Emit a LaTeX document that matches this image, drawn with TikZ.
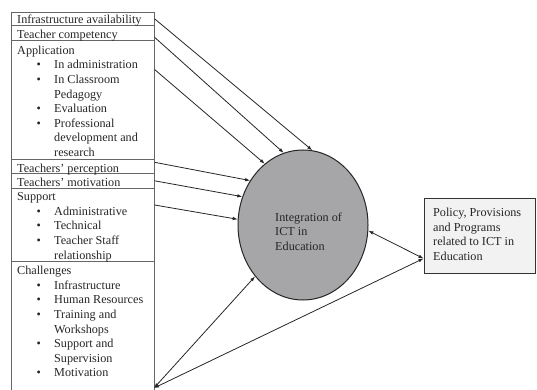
\documentclass[tikz,border=0pt]{standalone}
\usepackage{fontspec}
\setmainfont{Liberation Serif}
\usetikzlibrary{shapes.geometric,arrows.meta}
\newcommand{\bitem}{\hspace*{19.5pt}\makebox[17.5pt][l]{\textbullet}}
\newcommand{\cont}{\hspace*{37pt}}
\begin{document}
\begin{tikzpicture}[x=1pt,y=-1pt,
  lbox/.style={draw=black!60, line width=0.6pt, minimum width=143pt, inner sep=0pt, anchor=north west},
  txt/.style={anchor=north west, inner sep=0pt, align=left, font=\fontsize{12.2}{14.6}\selectfont, text=black!85},
  conn/.style={draw=black!85, line width=0.8pt, -{Latex[length=5pt,width=3.6pt]}},
  dconn/.style={draw=black!85, line width=0.8pt, {Latex[length=5pt,width=3.6pt]}-{Latex[length=5pt,width=3.6pt]}}]
\useasboundingbox (0,0) rectangle (537,390);
% left boxes
\node[lbox, minimum height=13pt] (infra) at (11,12) {};
\node[lbox, minimum height=15pt] (tc) at (11,25) {};
\node[lbox, minimum height=119pt] (app) at (11,40) {};
\node[lbox, minimum height=14pt] (perc) at (11,159) {};
\node[lbox, minimum height=15pt] (motiv) at (11,173) {};
\node[lbox, minimum height=73pt] (supp) at (11,188) {};
\node[lbox, minimum height=131pt] (chal) at (11,261) {};
% texts
\node[txt] (tinfra) at (17,13.3) {\strut Infrastructure availability};
\node[txt] (ttc) at (17,28.3) {\strut Teacher competency};
\node[txt] (tapp) at (17,43.8) {\strut Application\\
\bitem In administration\\
\bitem In Classroom\\
\cont Pedagogy\\
\bitem Evaluation\\
\bitem Professional\\
\cont development and\\
\cont research};
\node[txt] (tperc) at (17,161.8) {\strut Teachers’ perception};
\node[txt] (tmotiv) at (17,176.3) {\strut Teachers’ motivation};
\node[txt] (tsupp) at (17,190.3) {\strut Support\\
\bitem Administrative\\
\bitem Technical\\
\bitem Teacher Staff\\
\cont relationship};
\node[txt] (tchal) at (17,264.3) {\strut Challenges\\
\bitem Infrastructure\\
\bitem Human Resources\\
\bitem Training and\\
\cont Workshops\\
\bitem Support and\\
\cont Supervision\\
\bitem Motivation};
% ellipse
\node[ellipse, draw=black!85, line width=1pt, fill={rgb,255:red,166;green,166;blue,169}, minimum width=130pt, minimum height=150pt, inner sep=0pt] (ell) at (303,225) {};
\node[txt] (tell) at (275,210.8) {\strut Integration of\\ICT in\\Education};
% policy box
\node[draw=black!80, line width=1pt, fill=black!5, minimum width=111pt, minimum height=75pt, inner sep=0pt] (pol) at (479.5,235.5) {};
\node[txt] (tpol) at (433,206.3) {\strut Policy, Provisions\\and Programs\\related to ICT in\\Education};
% connector points
\coordinate (cb) at (154,388);
\coordinate (pp) at ([yshift=15pt]pol.south west);
% connectors
\draw[conn] (infra.east) -- (ell.83);
\draw[conn] ([yshift=-4.5pt]tc.east) -- (ell.105);
\draw[conn] ([yshift=-29.5pt]app.north east) -- (ell.122.6);
\draw[conn] ([yshift=4pt]perc.east) -- (ell.140.6);
\draw[conn] (motiv.east) -- (ell.155.7);
\draw[conn] ([yshift=-17pt]supp.north east) -- (ell.175);
\draw[dconn] (cb) -- (ell.227);
\draw[dconn] (cb) -- (pp);
\draw[dconn] (ell.-5.7) -- (pp);
\end{tikzpicture}
\end{document}
